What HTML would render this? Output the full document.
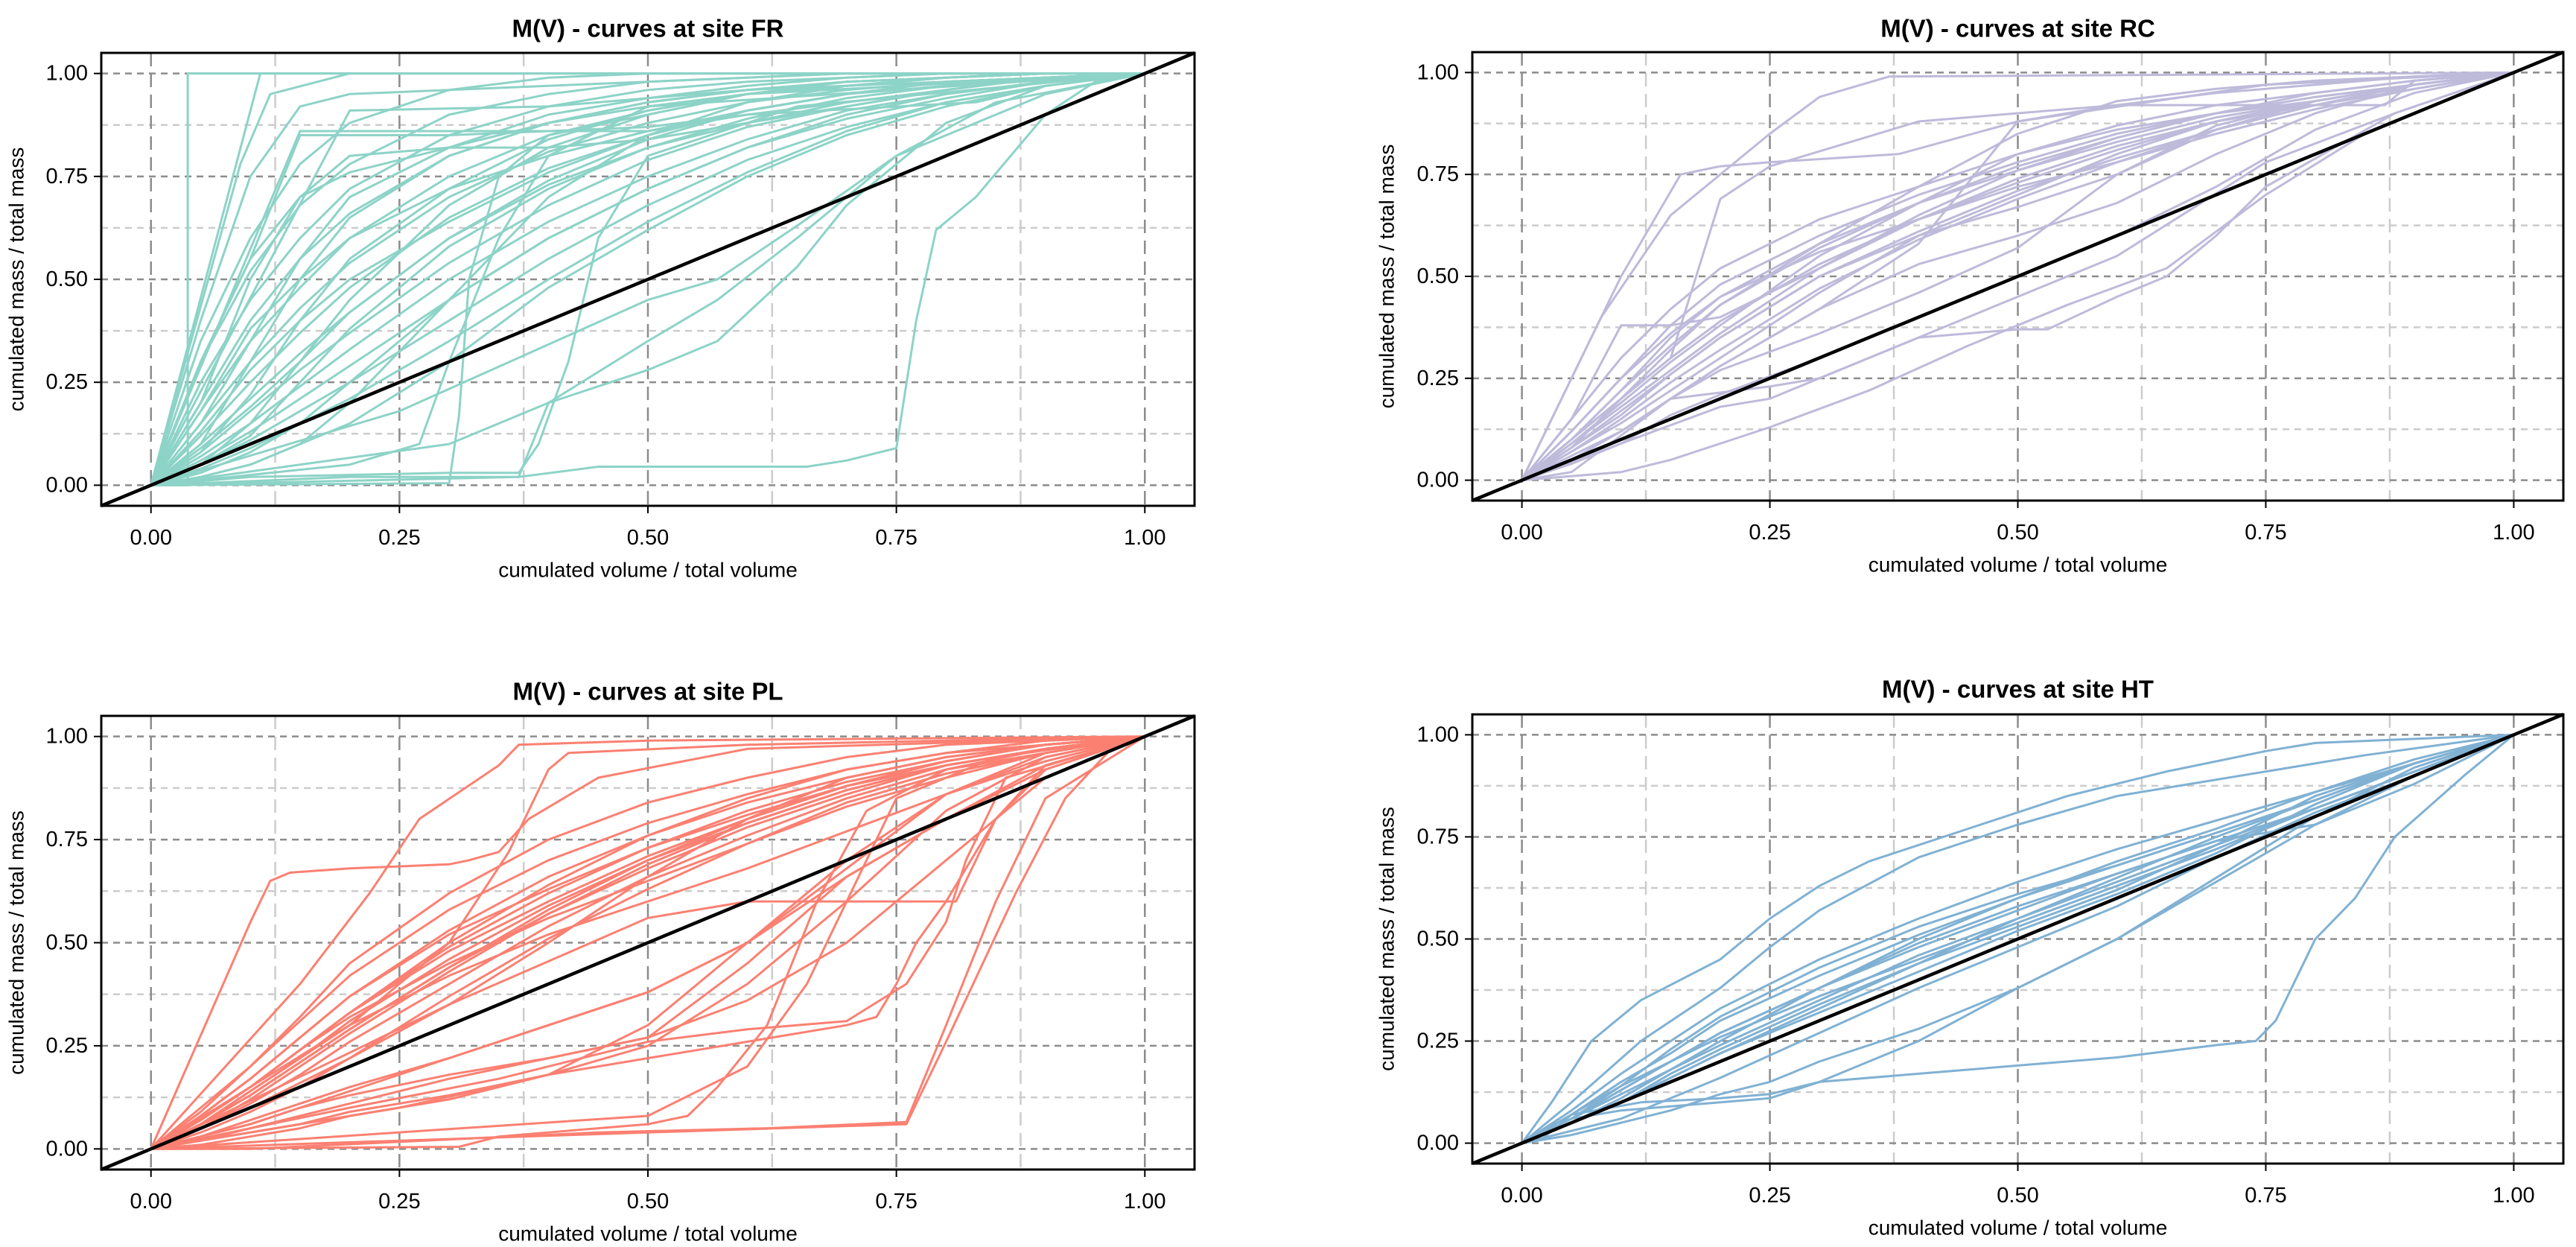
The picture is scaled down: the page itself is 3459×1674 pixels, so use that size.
<!DOCTYPE html>
<html><head><meta charset="utf-8"><style>
html,body{margin:0;padding:0;background:#fff;}
svg{display:block;font-family:"Liberation Sans",Arial,sans-serif;}
</style></head><body>
<svg id="chart" width="3459" height="1674" viewBox="0 0 3459 1674" xmlns="http://www.w3.org/2000/svg"></svg>
<script>
const xs = [0,0.05,0.1,0.15,0.2,0.3,0.4,0.5,0.6,0.7,0.8,0.9,1];
const tickValues = [0,0.25,0.5,0.75,1];
const tickLabels = ["0.00","0.25","0.50","0.75","1.00"];
const minorValues = [0.125,0.375,0.625,0.875];
const siteNames = ["FR","RC","PL","HT"];

const frGrid = [
[0,.35,.6,.78,.88,.96,.99,1,1,1,1,1,1],
[0,.3,.52,.68,.78,.9,.95,.98,.99,1,1,1,1],
[0,.25,.45,.6,.72,.85,.92,.96,.98,.99,1,1,1],
[0,.2,.4,.55,.66,.8,.88,.93,.96,.98,.99,1,1],
[0,.18,.35,.48,.6,.75,.85,.91,.95,.97,.99,1,1],
[0,.15,.3,.43,.54,.7,.81,.88,.93,.96,.98,.99,1],
[0,.12,.25,.37,.48,.65,.77,.85,.91,.95,.98,.99,1],
[0,.1,.21,.32,.42,.6,.73,.82,.89,.94,.97,.99,1],
[0,.08,.18,.28,.37,.54,.68,.79,.87,.92,.96,.99,1],
[0,.07,.15,.24,.33,.5,.64,.75,.84,.91,.95,.98,1],
[0,.06,.13,.21,.29,.45,.6,.72,.82,.89,.94,.98,1],
[0,.05,.11,.18,.25,.4,.55,.68,.79,.87,.93,.97,1],
[0,.04,.09,.15,.21,.35,.5,.64,.76,.86,.93,.97,1],
[0,.3,.55,.85,.85,.85,.86,.87,.9,.93,.96,.99,1],
[0,.2,.5,.7,.8,.82,.82,.84,.88,.92,.96,.99,1],
[0,.4,.75,.92,.95,.96,.97,.98,.99,1,1,1,1],
[0,.02,.05,.1,.2,.45,.7,.85,.93,.97,.99,1,1],
[0,.05,.15,.3,.45,.68,.82,.9,.95,.98,.99,1,1],
[0,.1,.3,.5,.65,.8,.88,.93,.96,.98,.99,1,1],
[0,.15,.35,.55,.7,.82,.9,.94,.97,.99,1,1,1],
[0,.08,.22,.4,.55,.72,.84,.91,.95,.97,.99,1,1],
[0,.05,.12,.25,.38,.58,.72,.82,.88,.93,.96,.99,1],
[0,.03,.08,.15,.25,.45,.6,.72,.82,.9,.95,.98,1],
[0,.02,.05,.1,.15,.3,.48,.62,.75,.85,.92,.97,1],
[0,.3,.55,.7,.76,.82,.88,.92,.95,.97,.99,1,1],
[0,.18,.38,.5,.6,.72,.8,.86,.91,.95,.98,.99,1],
[0,.13,.28,.4,.5,.64,.76,.85,.91,.95,.97,.99,1],
[0,.09,.19,.3,.42,.6,.74,.84,.91,.95,.98,.99,1]
];
const frSpecial = [
[[0,0],[0.037,0],[0.037,1],[1,1]],
[[0,0],[0.11,1],[1,1]],
[[0,0],[0.09,0.78],[0.12,0.95],[0.2,1],[1,1]],
[[0,0],[0.2,0.02],[0.37,0.02],[0.4,0.2],[0.5,0.35],[0.57,0.45],[0.65,0.6],[0.75,0.8],[0.9,0.95],[1,1]],
[[0,0],[0.37,0.02],[0.45,0.045],[0.66,0.045],[0.7,0.06],[0.75,0.09],[0.77,0.4],[0.79,0.62],[0.83,0.7],[0.9,0.9],[0.95,0.98],[1,1]],
[[0,0],[0.3,0.1],[0.4,0.2],[0.5,0.28],[0.57,0.35],[0.65,0.53],[0.7,0.68],[0.8,0.88],[0.9,0.97],[1,1]],
[[0,0],[0.25,0.18],[0.5,0.45],[0.57,0.5],[0.65,0.63],[0.75,0.8],[0.85,0.93],[1,1]],
[[0,0],[0.3,0.005],[0.31,0.17],[0.32,0.5],[0.35,0.75],[0.4,0.85],[0.6,0.95],[1,1]],
[[0,0],[0.2,0.05],[0.27,0.1],[0.3,0.3],[0.35,0.6],[0.4,0.8],[0.5,0.92],[1,1]],
[[0,0],[0.1,0.02],[0.3,0.03],[0.37,0.03],[0.39,0.1],[0.42,0.3],[0.45,0.6],[0.5,0.8],[0.65,0.92],[1,1]],
[[0,0],[0.15,0.86],[0.5,0.86],[0.6,0.9],[0.83,0.93],[0.9,0.97],[1,1]],
[[0,0],[0.2,0.91],[0.4,0.92],[0.6,0.96],[1,1]]
];

const rcGrid = [
[0,.15,.3,.42,.52,.64,.72,.8,.86,.9,.94,.97,1],
[0,.12,.25,.36,.45,.58,.68,.76,.83,.89,.93,.97,1],
[0,.1,.22,.33,.43,.57,.68,.77,.84,.9,.94,.97,1],
[0,.1,.2,.3,.39,.53,.64,.73,.81,.88,.93,.97,1],
[0,.09,.19,.29,.38,.55,.68,.8,.87,.92,.95,.98,1],
[0,.08,.17,.26,.35,.5,.61,.71,.79,.86,.92,.97,1],
[0,.12,.25,.38,.48,.6,.7,.78,.85,.9,.93,.97,1],
[0,.06,.12,.2,.28,.42,.53,.6,.68,.8,.9,.97,1],
[0,.07,.15,.24,.32,.47,.59,.69,.78,.86,.93,.97,1],
[0,.15,.38,.38,.4,.52,.64,.74,.82,.88,.92,.96,1],
[0,.05,.12,.2,.27,.36,.46,.57,.75,.87,.93,.97,1],
[0,.08,.16,.26,.35,.5,.6,.67,.75,.86,.92,.97,1],
[0,.1,.22,.35,.45,.56,.64,.72,.78,.85,.91,.96,1],
[0,.05,.12,.2,.28,.42,.58,.88,.92,.95,.97,.99,1],
[0,.04,.09,.16,.21,.3,.4,.5,.6,.72,.86,.95,1],
[0,.08,.2,.32,.43,.58,.72,.85,.93,.96,.98,.99,1],
[0,.07,.14,.22,.3,.46,.6,.7,.8,.88,.93,.97,1],
[0,.09,.18,.27,.36,.52,.65,.76,.84,.9,.95,.98,1]
];
const rcSpecial = [
[[0,0],[0.08,0.4],[0.15,0.65],[0.25,0.85],[0.3,0.94],[0.37,0.99],[1,1]],
[[0,0],[0.1,0.5],[0.16,0.75],[0.2,0.77],[0.25,0.78],[0.38,0.8],[0.5,0.88],[0.75,0.97],[1,1]],
[[0,0],[0.1,0.02],[0.15,0.05],[0.25,0.13],[0.35,0.22],[0.45,0.33],[0.55,0.43],[0.65,0.52],[0.75,0.7],[0.85,0.85],[1,1]],
[[0,0],[0.2,0.18],[0.25,0.2],[0.4,0.35],[0.5,0.37],[0.53,0.37],[0.6,0.45],[0.65,0.5],[0.7,0.6],[0.75,0.72],[0.88,0.9],[1,1]],
[[0,0],[0.05,0.02],[0.15,0.2],[0.25,0.23],[0.3,0.25],[0.45,0.4],[0.6,0.55],[0.75,0.78],[0.88,0.9],[1,1]],
[[0,0],[0.15,0.3],[0.2,0.69],[0.25,0.77],[0.4,0.88],[0.6,0.92],[0.87,0.92],[0.9,0.98],[1,1]]
];

const plGrid = [
[0,.1,.2,.31,.42,.58,.7,.79,.86,.92,.96,.98,1],
[0,.08,.17,.27,.37,.53,.66,.76,.84,.9,.95,.98,1],
[0,.07,.15,.24,.33,.49,.62,.73,.82,.89,.94,.98,1],
[0,.07,.15,.24,.32,.45,.56,.65,.74,.83,.9,.96,1],
[0,.06,.13,.21,.29,.44,.57,.68,.78,.86,.93,.97,1],
[0,.06,.14,.22,.3,.42,.52,.6,.68,.77,.86,.94,1],
[0,.05,.11,.18,.26,.4,.54,.66,.76,.85,.92,.97,1],
[0,.08,.17,.27,.37,.52,.63,.73,.81,.88,.94,.98,1],
[0,.06,.14,.22,.31,.46,.59,.7,.79,.87,.93,.97,1],
[0,.04,.09,.15,.22,.37,.51,.63,.74,.84,.91,.96,1],
[0,.03,.06,.1,.14,.22,.3,.38,.5,.66,.8,.92,1],
[0,.02,.05,.08,.11,.17,.22,.27,.36,.5,.7,.9,1],
[0,.02,.04,.06,.09,.13,.18,.25,.4,.6,.82,.95,1],
[0,.06,.13,.21,.29,.44,.58,.7,.8,.88,.93,.97,1],
[0,.01,.03,.05,.08,.12,.18,.3,.5,.7,.86,.95,1],
[0,.05,.1,.16,.22,.35,.5,.66,.8,.9,.95,.98,1],
[0,.03,.07,.11,.15,.22,.3,.38,.5,.68,.86,.96,1],
[0,.09,.2,.32,.45,.62,.75,.84,.9,.95,.98,.99,1],
[0,.07,.15,.24,.33,.5,.64,.76,.85,.92,.96,.99,1],
[0,.03,.06,.1,.13,.18,.22,.27,.45,.66,.8,.93,1],
[0,.07,.15,.24,.33,.48,.6,.71,.8,.88,.94,.98,1],
[0,.05,.12,.2,.28,.43,.57,.69,.79,.87,.93,.97,1]
];
const plSpecial = [
[[0,0],[0.1,0.55],[0.12,0.65],[0.14,0.67],[0.2,0.68],[0.3,0.69],[0.32,0.7],[0.35,0.72],[0.38,0.8],[0.45,0.9],[0.6,0.97],[1,1]],
[[0,0],[0.15,0.4],[0.22,0.62],[0.27,0.8],[0.35,0.93],[0.37,0.98],[0.5,0.99],[1,1]],
[[0,0],[0.2,0.3],[0.3,0.5],[0.36,0.72],[0.4,0.92],[0.42,0.96],[0.6,0.98],[1,1]],
[[0,0],[0.5,0.04],[0.76,0.06],[0.8,0.26],[0.87,0.62],[0.92,0.85],[0.97,0.98],[1,1]],
[[0,0],[0.31,0.005],[0.35,0.03],[0.5,0.06],[0.54,0.08],[0.57,0.15],[0.62,0.3],[0.67,0.6],[0.72,0.82],[0.8,0.92],[1,1]],
[[0,0],[0.5,0.08],[0.6,0.2],[0.66,0.4],[0.7,0.6],[0.75,0.85],[0.85,0.95],[1,1]],
[[0,0],[0.25,0.1],[0.4,0.18],[0.5,0.22],[0.6,0.26],[0.7,0.3],[0.73,0.32],[0.75,0.4],[0.77,0.5],[0.8,0.6],[0.85,0.8],[0.9,0.92],[1,1]],
[[0,0],[0.2,0.1],[0.35,0.17],[0.5,0.26],[0.6,0.29],[0.7,0.31],[0.76,0.4],[0.8,0.55],[0.82,0.7],[0.86,0.9],[1,1]],
[[0,0],[0.3,0.35],[0.5,0.56],[0.6,0.6],[0.81,0.6],[0.85,0.8],[0.9,0.93],[1,1]],
[[0,0],[0.1,0.0],[0.45,0.04],[0.62,0.05],[0.76,0.065],[0.8,0.3],[0.85,0.6],[0.9,0.85],[1,1]]
];

const htGrid = [
[0,.08,.17,.25,.33,.45,.55,.64,.72,.79,.86,.93,1],
[0,.07,.15,.22,.3,.41,.51,.6,.68,.76,.84,.93,1],
[0,.06,.13,.2,.27,.38,.48,.57,.66,.74,.82,.91,1],
[0,.06,.12,.18,.24,.35,.46,.55,.64,.73,.82,.91,1],
[0,.07,.14,.2,.26,.36,.45,.54,.63,.72,.82,.91,1],
[0,.05,.11,.18,.25,.38,.5,.6,.69,.77,.86,.94,1],
[0,.05,.1,.17,.23,.34,.44,.53,.62,.73,.85,.93,1],
[0,.06,.14,.23,.31,.43,.53,.61,.68,.76,.84,.93,1],
[0,.05,.1,.16,.22,.33,.44,.55,.65,.75,.84,.93,1],
[0,.05,.1,.16,.22,.32,.42,.52,.61,.71,.83,.93,1],
[0,.03,.06,.11,.16,.27,.38,.48,.58,.7,.81,.9,1],
[0,.06,.13,.2,.27,.38,.49,.58,.66,.74,.78,.88,1]
];
const htSpecial = [
[[0,0],[0.02,0.01],[0.05,0.07],[0.12,0.1],[0.2,0.11],[0.25,0.12],[0.3,0.15],[0.4,0.17],[0.5,0.19],[0.6,0.21],[0.7,0.24],[0.74,0.25],[0.76,0.3],[0.78,0.4],[0.8,0.5],[0.84,0.6],[0.88,0.75],[0.95,0.9],[1,1]],
[[0,0],[0.03,0.1],[0.07,0.25],[0.12,0.35],[0.2,0.45],[0.25,0.55],[0.3,0.63],[0.35,0.69],[0.45,0.77],[0.55,0.85],[0.65,0.91],[0.75,0.96],[0.8,0.98],[1,1]],
[[0,0],[0.05,0.1],[0.12,0.25],[0.2,0.38],[0.25,0.48],[0.3,0.57],[0.4,0.7],[0.5,0.78],[0.6,0.85],[0.75,0.91],[0.85,0.95],[1,1]],
[[0,0],[0.05,0.02],[0.1,0.05],[0.15,0.08],[0.2,0.12],[0.25,0.15],[0.3,0.2],[0.4,0.28],[0.5,0.38],[0.6,0.5],[0.7,0.64],[0.8,0.78],[0.9,0.9],[1,1]],
[[0,0],[0.05,0.06],[0.1,0.08],[0.2,0.1],[0.25,0.11],[0.3,0.15],[0.4,0.25],[0.5,0.38],[0.6,0.5],[0.7,0.65],[0.8,0.8],[0.9,0.92],[1,1]]
];

const NS = "http://www.w3.org/2000/svg";
const svg = document.getElementById("chart");
function mk(tag, attrs, parent){
  const e = document.createElementNS(NS, tag);
  for (const k in attrs) e.setAttribute(k, attrs[k]);
  (parent||svg).appendChild(e);
  return e;
}
const panels = [
  {site:0, key:"fr", color:"#8dd3c7", l:136, t:71, r:1604, b:679, ty:38, ylx:22, grid:frGrid, special:frSpecial},
  {site:1, key:"rc", color:"#bebada", l:1977, t:70, r:3442, b:672, ty:38, ylx:1862, grid:rcGrid, special:rcSpecial},
  {site:2, key:"pl", color:"#fb8072", l:136, t:961, r:1604, b:1570, ty:928, ylx:22, grid:plGrid, special:plSpecial},
  {site:3, key:"ht", color:"#80b1d3", l:1977, t:959, r:3442, b:1562, ty:925, ylx:1862, grid:htGrid, special:htSpecial}
];
panels.forEach(p => {
  const sx = v => p.l + (v + 0.05) / 1.1 * (p.r - p.l);
  const sy = v => p.b - (v + 0.05) / 1.1 * (p.b - p.t);
  const g = mk("g", {});
  
  
  const title = mk("text", {x:(p.l+p.r)/2, y:p.ty, "text-anchor":"middle", "dominant-baseline":"central", "font-size":"33", "font-weight":"bold", fill:"#000"}, g);
  title.textContent = "M(V) - curves at site " + siteNames[p.site];
  
  
  minorValues.forEach(v => {
    const a = mk("line", {x1:p.l, x2:p.r, y1:sy(v), y2:sy(v), stroke:"#cccccc", "stroke-width":"2.5", "stroke-dasharray":"9,7"}, g);
    
    
    const b = mk("line", {x1:sx(v), x2:sx(v), y1:p.t, y2:p.b, stroke:"#cccccc", "stroke-width":"2.5", "stroke-dasharray":"18,10"}, g);
    
    
  });
  tickValues.forEach((v, i) => {
    const a = mk("line", {x1:p.l, x2:p.r, y1:sy(v), y2:sy(v), stroke:"#8c8c8c", "stroke-width":"2.5", "stroke-dasharray":"9,7"}, g);
    
    
    const b = mk("line", {x1:sx(v), x2:sx(v), y1:p.t, y2:p.b, stroke:"#8c8c8c", "stroke-width":"2.5", "stroke-dasharray":"18,10"}, g);
    
    
    const tx = mk("line", {x1:sx(v), x2:sx(v), y1:p.b, y2:p.b+10, stroke:"#000", "stroke-width":"2"}, g);
    
    
    const ty = mk("line", {x1:p.l-10, x2:p.l, y1:sy(v), y2:sy(v), stroke:"#000", "stroke-width":"2"}, g);
    
    
    const xl = mk("text", {x:sx(v), y:p.b+43, "text-anchor":"middle", "dominant-baseline":"central", "font-size":"29", fill:"#000"}, g);
    xl.textContent = tickLabels[i];
    
    
    const yl = mk("text", {x:p.l-18, y:sy(v), "text-anchor":"end", "dominant-baseline":"central", "font-size":"29", fill:"#000"}, g);
    yl.textContent = tickLabels[i];
    
    
  });
  const xt = mk("text", {x:(p.l+p.r)/2, y:p.b+86, "text-anchor":"middle", "dominant-baseline":"central", "font-size":"28", fill:"#000"}, g);
  xt.textContent = "cumulated volume / total volume";
  
  
  const cy = (p.t+p.b)/2;
  const yt = mk("text", {x:p.ylx, y:cy, "text-anchor":"middle", "dominant-baseline":"central", "font-size":"28", fill:"#000", transform:"rotate(-90 "+p.ylx+" "+cy+")"}, g);
  yt.textContent = "cumulated mass / total mass";
  
  
  const cg = mk("g", {fill:"none", stroke:p.color, "stroke-width":"3", "stroke-linejoin":"round"}, g);
  
  
  p.grid.forEach(ys => {
    const d = ys.map((y, i) => (i ? "L" : "M") + sx(xs[i]).toFixed(1) + "," + sy(y).toFixed(1)).join("");
    const path = mk("path", {d:d}, cg);
    
    
  });
  p.special.forEach(pts => {
    const d = pts.map((pt, i) => (i ? "L" : "M") + sx(pt[0]).toFixed(1) + "," + sy(pt[1]).toFixed(1)).join("");
    const path = mk("path", {d:d}, cg);
    
    
  });
  const diag = mk("line", {x1:sx(-0.05), y1:sy(-0.05), x2:sx(1.05), y2:sy(1.05), stroke:"#000", "stroke-width":"4.5"}, g);
  
  
  const box = mk("rect", {x:p.l, y:p.t, width:p.r-p.l, height:p.b-p.t, fill:"none", stroke:"#000", "stroke-width":"3"}, g);
  
  
});
</script>
</body></html>
